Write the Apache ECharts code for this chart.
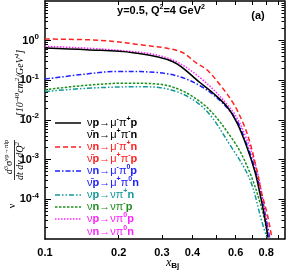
<!DOCTYPE html>
<html><head><meta charset="utf-8">
<script src="https://cdn.jsdelivr.net/npm/echarts@6/dist/echarts.min.js"></script>
<style>html,body{margin:0;padding:0;background:#fff}#c{width:296px;height:270px}</style>
</head><body><div id="c"></div>
<script>
// ---- data ----
const xBlack = [0.1, 0.148, 0.229, 0.333, 0.43, 0.484, 0.554, 0.608, 0.667, 0.72, 0.753, 0.788, 0.813];
const vBlack = [0.654, 0.59, 0.497, 0.295, 0.087, 0.0485, 0.0216, 0.0085, 0.0021, 4.9e-4, 1.45e-4, 3.6e-5, 1.1e-5];
const xRed = [0.1, 0.167, 0.244, 0.355, 0.416, 0.458, 0.518, 0.585, 0.643, 0.687, 0.732, 0.766, 0.806, 0.843];
const vRed = [1.10, 1.02, 0.79, 0.537, 0.27, 0.185, 0.0775, 0.0273, 0.0085, 0.00266, 5.5e-4, 1.45e-4, 4.5e-5, 1.1e-5];
const xBlue = [0.1, 0.148, 0.196, 0.295, 0.43, 0.585, 0.667, 0.732, 0.78, 0.826];
const vBlue = [0.108, 0.145, 0.168, 0.155, 0.073, 0.0136, 0.0024, 4.1e-4, 7.3e-5, 1.1e-5];
const xTeal = [0.1, 0.148, 0.244, 0.292, 0.43, 0.585, 0.687, 0.766, 0.804];
const vTeal = [0.052, 0.063, 0.069, 0.066, 0.024, 0.0018, 3.1e-4, 2.9e-5, 1.1e-5];
const xGreen = [0.1, 0.148, 0.215, 0.292, 0.43, 0.585, 0.687, 0.776, 0.813];
const vGreen = [0.058, 0.075, 0.085, 0.08, 0.0289, 0.00316, 4.6e-4, 4.5e-5, 1.1e-5];
const xMag = [0.1, 0.196, 0.314, 0.43, 0.585, 0.667, 0.732, 0.776, 0.82];
const vMag = [0.718, 0.575, 0.372, 0.116, 0.0161, 0.0032, 5.5e-4, 9.6e-5, 1.1e-5];

const xMin = 0.1, xMax = 0.95;
const xTickVals = [0.2, 0.3, 0.4, 0.5, 0.6, 0.7, 0.8, 0.9];
const xLabelVals = [0.1, 0.2, 0.3, 0.4, 0.6, 0.8];
const xLabelTexts = ['0.1', '0.2', '0.3', '0.4', '0.6', '0.8'];
const yLabelExps = [0, -1, -2, -3, -4];
const legendLabels = [
  '{n|ν}{b|p}{n|→μ}{s|-}{n|π}{s|+}{b|p}',
  '{n|ν̄}{b|n}{n|→μ}{s|+}{n|π}{s|-}{b|n}',
  '{n|ν}{b|n}{n|→μ}{s|-}{n|π}{s|+}{b|n}',
  '{n|ν̄}{b|p}{n|→μ}{s|+}{n|π}{s|-}{b|p}',
  '{n|ν}{b|n}{n|→μ}{s|-}{n|π}{s|0}{b|p}',
  '{n|ν̄}{b|p}{n|→μ}{s|+}{n|π}{s|0}{b|n}',
  '{n|ν}{b|p}{n|→νπ}{s|+}{b|n}',
  '{n|ν}{b|n}{n|→νπ}{s|-}{b|p}',
  '{n|ν}{b|p}{n|→νπ}{s|0}{b|p}',
  '{n|ν}{b|n}{n|→νπ}{s|0}{b|n}'
];

// ---- styles ----
const C = {black:'#000000', red:'#ff2020', blue:'#2020ff', teal:'#139999', green:'#1f8f1f', mag:'#ff22ff'};
const SANS = '"Liberation Sans", Arial, Helvetica, sans-serif';
const SERIF = '"Liberation Serif", "Times New Roman", serif';
const zip = (xs, vs) => xs.map((x, i) => [x, vs[i]]);
const lg = Math.log10;

const minorY = [];
for (let n = -5; n < 1; n++) for (let k = 2; k <= 9; k++) minorY.push(lg(k) + n);
const majorY = [-4, -3, -2, -1, 0];

function mk(name, xs, vs, color, type) {
  return {name, type:'line', xAxisIndex:0, yAxisIndex:0, data:zip(xs, vs), showSymbol:false,
    smooth:0.35, lineStyle:{color, width:1.5, type}, silent:true, animation:false, clip:true};
}

const rowY = [123, 135, 147, 159, 171, 183, 195, 207, 219, 232];
const rowColor = [C.black, C.black, C.red, C.red, C.blue, C.blue, C.teal, C.green, C.mag, C.mag];
const sampleRows = [[0, C.black, null], [2, C.red, [5,3]], [4, C.blue, [5,2,1.5,2]], [6, C.teal, [5,2,1.5,2,1.5,2]], [7, C.green, [2.5,1.5]], [8, C.mag, [1.5,1.5]]];
const legRich = {
  n:{fontFamily:SANS, fontSize:11, lineHeight:15},
  b:{fontFamily:SANS, fontSize:11, fontWeight:'bold', lineHeight:15},
  s:{fontFamily:SANS, fontSize:7, fontWeight:'bold', lineHeight:8, verticalAlign:'top'}
};
const graphics = [];
legendLabels.forEach((t, i) => {
  graphics.push({type:'text', x:87, y:rowY[i], silent:true,
    style:{text:t, rich:legRich, fill:rowColor[i], align:'left', verticalAlign:'middle'}});
});
sampleRows.forEach(([r, col, dash]) => {
  graphics.push({type:'line', silent:true, shape:{x1:55, y1:rowY[r], x2:81, y2:rowY[r]},
    style:{stroke:col, lineWidth:1.5, lineDash:dash || null}});
});
graphics.push({type:'text', x:161, y:11, silent:true, style:{text:'{t|y=0.5, Q}{u|2}{t|=4 GeV}{u|2}', align:'center', verticalAlign:'middle',
  rich:{t:{fontFamily:SANS, fontSize:11, fontWeight:'bold', lineHeight:15}, u:{fontFamily:SANS, fontSize:7, fontWeight:'bold', lineHeight:8, verticalAlign:'top'}}}});
graphics.push({type:'text', x:258, y:16, silent:true, style:{text:'(a)', fontFamily:SANS, fontSize:11, fontWeight:'bold', align:'center', verticalAlign:'middle', fill:'#000'}});
graphics.push({type:'text', x:166, y:263, silent:true, style:{text:'{i|x}{b|Bj}', align:'left', verticalAlign:'middle',
  rich:{i:{fontFamily:SERIF, fontStyle:'italic', fontSize:12, lineHeight:14}, b:{fontFamily:SANS, fontWeight:'bold', fontSize:8, lineHeight:8, verticalAlign:'bottom'}}}});
const serifRich = {
  d:{fontFamily:SERIF, fontStyle:'italic', fontSize:10, lineHeight:13},
  r:{fontFamily:SERIF, fontSize:10, lineHeight:13},
  u:{fontFamily:SERIF, fontSize:6.5, lineHeight:7, verticalAlign:'top'},
  ui:{fontFamily:SERIF, fontStyle:'italic', fontSize:7, lineHeight:7, verticalAlign:'top'}
};
graphics.push({type:'text', x:20, y:83, rotation:Math.PI/2, silent:true, style:{text:'{d|[10}{ui|-40}{d|cm}{ui|2}{d|/GeV}{ui|4}{d|]}', rich:serifRich, align:'center', verticalAlign:'middle', fill:'#000'}});
graphics.push({type:'text', x:9.5, y:157, rotation:Math.PI/2, silent:true, style:{text:'{d|d}{u|3}{r|σ}{u|νp→πlp}', rich:serifRich, align:'center', verticalAlign:'middle', fill:'#000'}});
graphics.push({type:'line', silent:true, shape:{x1:14.5, y1:140, x2:14.5, y2:180}, style:{stroke:'#000', lineWidth:0.8}});
graphics.push({type:'text', x:20, y:161, rotation:Math.PI/2, silent:true, style:{text:'{d|dt dν dQ}{ui|2}', rich:serifRich, align:'center', verticalAlign:'middle', fill:'#000'}});
graphics.push({type:'text', x:12, y:206, rotation:Math.PI/2, silent:true, style:{text:'ν', fontFamily:SERIF, fontSize:10, align:'center', verticalAlign:'middle', fill:'#000'}});

const frameLine = {show:true, onZero:false, lineStyle:{color:'#000', width:1.5}};
const noSplit = {show:false};
const option = {
  animation:false,
  backgroundColor:'#fff',
  grid:{left:45, top:1, right:11.5, bottom:31, containLabel:false},
  xAxis:[
    {type:'log', logBase:10, min:xMin, max:xMax, show:false, gridIndex:0},
    {type:'value', min:lg(xMin), max:lg(xMax), position:'bottom', axisLine:frameLine, splitLine:noSplit,
      axisTick:{show:true, inside:true, length:4, customValues:xTickVals.map(lg), lineStyle:{color:'#000', width:1}},
      axisLabel:{show:false}},
    {type:'value', min:lg(xMin), max:lg(xMax), position:'top', axisLine:frameLine, splitLine:noSplit,
      axisTick:{show:true, inside:true, length:4, customValues:xTickVals.map(lg), lineStyle:{color:'#000', width:1}},
      axisLabel:{show:false}}
  ],
  yAxis:[
    {type:'log', logBase:10, min:1e-5, max:10, show:false},
    {type:'value', min:-5, max:1, position:'left', axisLine:frameLine, splitLine:noSplit,
      axisTick:{show:true, inside:true, length:6, customValues:majorY, lineStyle:{color:'#000', width:1}},
      axisLabel:{show:true, customValues:yLabelExps, margin:6, color:'#000', hideOverlap:false,
        formatter:v => '{b|10}{s|' + Math.round(v) + '}',
        rich:{b:{fontFamily:SANS, fontSize:11, fontWeight:'bold', lineHeight:16}, s:{fontFamily:SANS, fontSize:8, fontWeight:'bold', lineHeight:8, verticalAlign:'top'}}}},
    {type:'value', min:-5, max:1, position:'left', axisLine:{show:false, onZero:false}, splitLine:noSplit,
      axisTick:{show:true, inside:true, length:3, customValues:minorY, lineStyle:{color:'#000', width:1}}, axisLabel:{show:false}},
    {type:'value', min:-5, max:1, position:'right', axisLine:frameLine, splitLine:noSplit,
      axisTick:{show:true, inside:true, length:6, customValues:majorY, lineStyle:{color:'#000', width:1}}, axisLabel:{show:false}},
    {type:'value', min:-5, max:1, position:'right', axisLine:{show:false, onZero:false}, splitLine:noSplit,
      axisTick:{show:true, inside:true, length:3, customValues:minorY, lineStyle:{color:'#000', width:1}}, axisLabel:{show:false}}
  ],
  series:[
    mk('green', xGreen, vGreen, C.green, [2.5,1.5]),
    mk('teal', xTeal, vTeal, C.teal, [5,2,1.5,2,1.5,2]),
    mk('blue', xBlue, vBlue, C.blue, [5,2,1.5,2]),
    mk('magenta', xMag, vMag, C.mag, [1.5,1.5]),
    mk('black', xBlack, vBlack, C.black, 'solid'),
    mk('red', xRed, vRed, C.red, [5,3])
  ],
  graphic:{elements:graphics}
};
const chart = echarts.init(document.getElementById('c'), null, {renderer:'canvas'});
chart.setOption(option);
// x tick labels placed with the log axis's own scale
const yBottom = chart.convertToPixel({yAxisIndex:0}, 1e-5);
xLabelVals.forEach((v, i) => {
  const px = chart.convertToPixel({xAxisIndex:0}, v);
  graphics.push({type:'text', x:px, y:yBottom + 14, silent:true,
    style:{text:xLabelTexts[i], fontFamily:SANS, fontSize:11, fontWeight:'bold', fill:'#000', align:'center', verticalAlign:'middle'}});
});
chart.setOption({graphic:{elements:graphics}}, {replaceMerge:['graphic']});
</script></body></html>
